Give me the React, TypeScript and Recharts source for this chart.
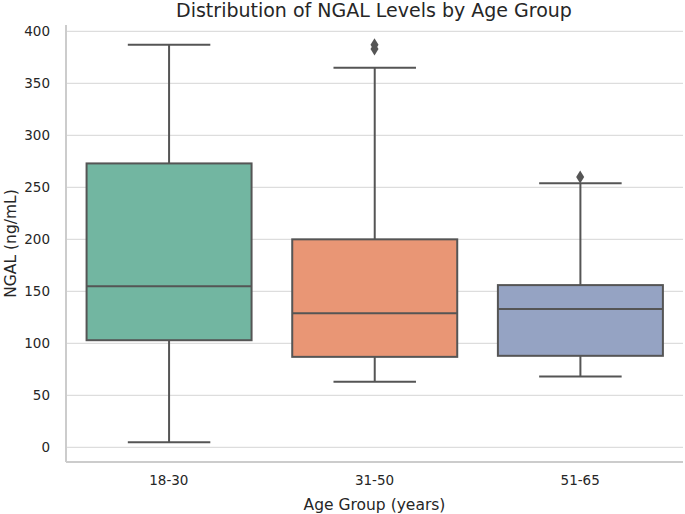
import { ComposedChart, Bar, Scatter, XAxis, YAxis, CartesianGrid, Label } from "recharts"

const groups = ["18-30", "31-50", "51-65"]
const whiskerLow = [5, 63, 68]
const q1 = [103, 87, 88]
const median = [155, 129, 133]
const q3 = [273, 200, 156]
const whiskerHigh = [387, 365, 254]
const outlierGroups = ["31-50", "31-50", "51-65"]
const outlierValues = [387, 383, 260]
const yTicks = [0, 50, 100, 150, 200, 250, 300, 350, 400]
const boxColors = ["#72b6a1", "#e99675", "#95a3c3"]

const data = groups.map((g, i) => ({
  group: g,
  range: [whiskerLow[i], whiskerHigh[i]],
  q1: q1[i],
  median: median[i],
  q3: q3[i],
  color: boxColors[i],
}))

const outliers = outlierGroups.map((g, i) => ({ group: g, value: outlierValues[i] }))

const LINE = "#555555"
const FONT = "'DejaVu Sans', sans-serif"

// box drawn inside the [low, high] range bar; inner values mapped on the bar's own pixel span
const BoxShape = (props: any) => {
  const { x, y, width, height, payload } = props
  const [lo, hi] = payload.range
  const top = Math.min(y, y + height)
  const h = Math.abs(height)
  const toY = (v: number) => top + ((hi - v) / (hi - lo)) * h
  const cx = x + width / 2
  const capHalf = width / 4
  const yq1 = toY(payload.q1)
  const yq3 = toY(payload.q3)
  const ymed = toY(payload.median)
  return (
    <g>
      <line x1={cx} x2={cx} y1={top} y2={yq3} stroke={LINE} strokeWidth={2} />
      <line x1={cx} x2={cx} y1={yq1} y2={top + h} stroke={LINE} strokeWidth={2} />
      <line x1={cx - capHalf} x2={cx + capHalf} y1={top} y2={top} stroke={LINE} strokeWidth={2} />
      <line x1={cx - capHalf} x2={cx + capHalf} y1={top + h} y2={top + h} stroke={LINE} strokeWidth={2} />
      <rect x={x} y={yq3} width={width} height={yq1 - yq3} fill={payload.color} stroke={LINE} strokeWidth={2} />
      <line x1={x} x2={x + width} y1={ymed} y2={ymed} stroke={LINE} strokeWidth={2} />
    </g>
  )
}

const Diamond = (props: any) => {
  const { cx, cy } = props
  if (cx == null || cy == null) return null
  return <path d={`M${cx},${cy - 6.5}L${cx + 4},${cy}L${cx},${cy + 6.5}L${cx - 4},${cy}Z`} fill={LINE} />
}

export default function App() {
  return (
    <div style={{ position: "absolute", left: 0, top: 0, width: 685, height: 514, background: "#fff" }}>
      <div
        style={{
          position: "absolute",
          left: 66,
          width: 616,
          top: 0,
          textAlign: "center",
          fontFamily: FONT,
          fontSize: 19,
          lineHeight: "20px",
          color: "#262626",
        }}
      >
        Distribution of NGAL Levels by Age Group
      </div>
      <ComposedChart
        width={685}
        height={514}
        data={data}
        margin={{ top: 25, right: 2, bottom: 0, left: 0 }}
        barCategoryGap="10%"
      >
        <CartesianGrid vertical={false} syncWithTicks stroke="#dddddd" strokeWidth={1.3} />
        <XAxis
          dataKey="group"
          allowDuplicatedCategory={false}
          height={52}
          tickLine={false}
          tickSize={0}
          tickMargin={13}
          axisLine={{ stroke: "#cccccc", strokeWidth: 2 }}
          tick={{ fill: "#262626", fontSize: 13.5, fontFamily: FONT }}
        >
          <Label
            value="Age Group (years)"
            position="insideBottom"
            offset={4}
            style={{ fill: "#262626", fontSize: 15.5, fontFamily: FONT }}
          />
        </XAxis>
        <YAxis
          type="number"
          domain={[-14.1, 406.1]}
          ticks={yTicks}
          allowDataOverflow
          width={66}
          tickLine={false}
          tickSize={0}
          tickMargin={16}
          axisLine={{ stroke: "#cccccc", strokeWidth: 2 }}
          tick={{ fill: "#262626", fontSize: 13.5, fontFamily: FONT }}
        >
          <Label
            value="NGAL (ng/mL)"
            angle={-90}
            position="insideLeft"
            offset={10}
            style={{ textAnchor: "middle", fill: "#262626", fontSize: 15.5, fontFamily: FONT }}
          />
        </YAxis>
        <Bar dataKey="range" shape={BoxShape} isAnimationActive={false} />
        <Scatter data={outliers} dataKey="value" shape={Diamond} isAnimationActive={false} />
      </ComposedChart>
    </div>
  )
}
